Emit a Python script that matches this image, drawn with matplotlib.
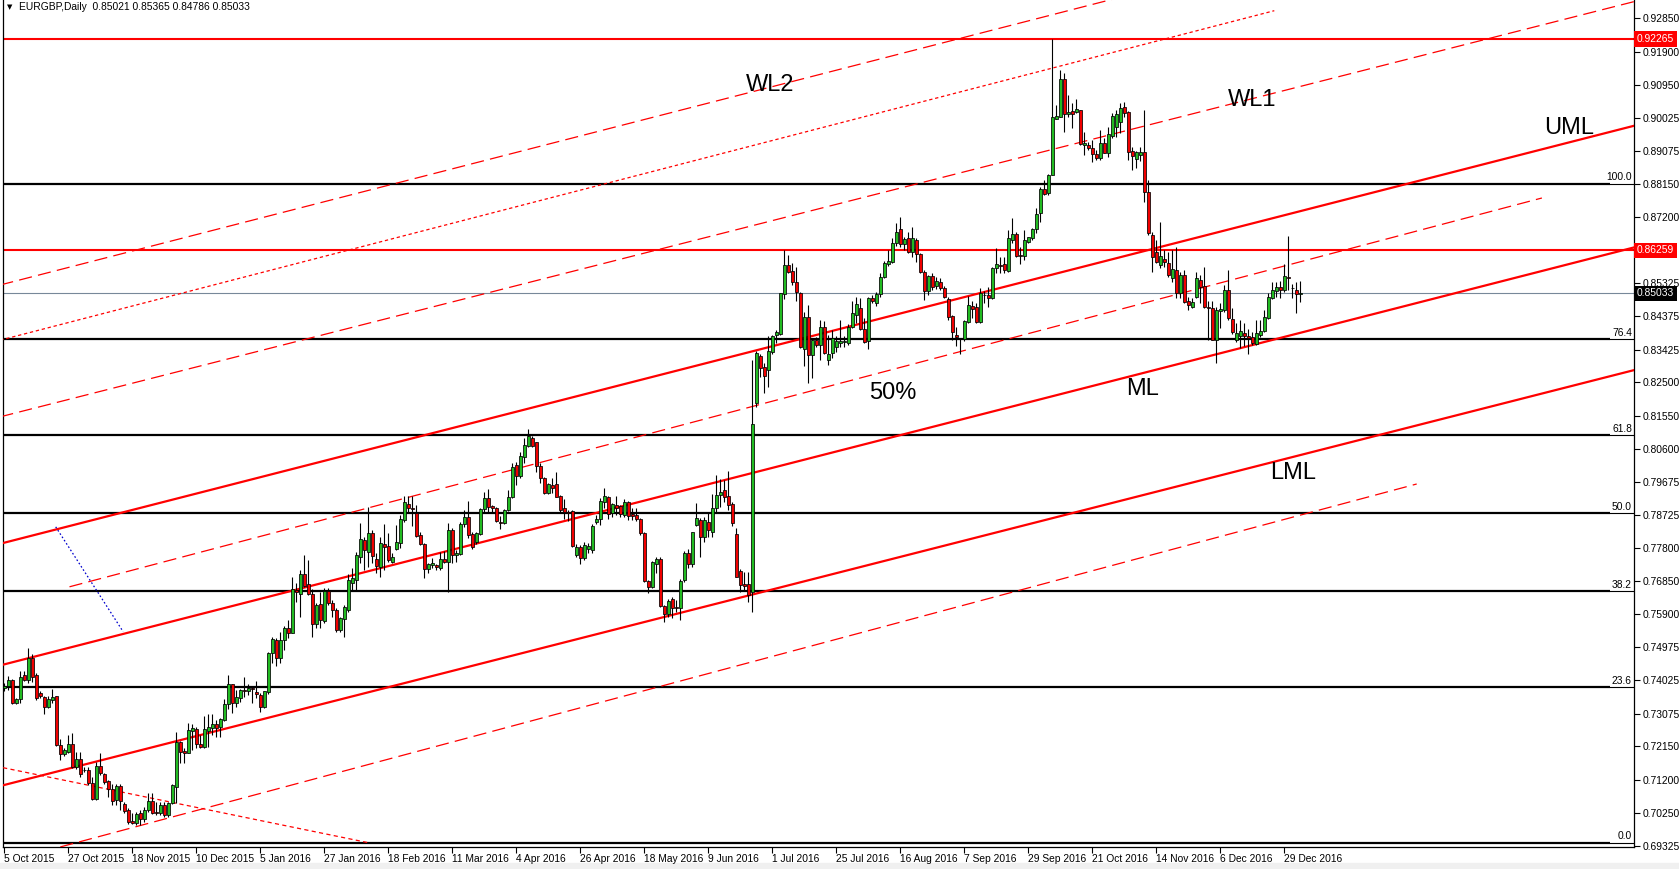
import numpy as np
import matplotlib
matplotlib.use("Agg")
import matplotlib.pyplot as plt
from matplotlib.patches import Rectangle

plt.rcParams['font.family'] = ['Liberation Sans', 'DejaVu Sans']
plt.rcParams['lines.scale_dashes'] = False

# ---------------- data (prices in 1e-4 units) ----------------
opens = [7380,7387,7403,7337,7349,7417,7403,7467,7417,7367,
 7354,7326,7347,7357,7218,7192,7200,7220,7157,7178,
 7147,7147,7111,7064,7159,7135,7116,7094,7062,7102,
 7051,7034,7003,6998,7024,7007,7033,7059,7027,7026,
 7047,7019,7053,7100,7226,7202,7197,7259,7264,7221,
 7214,7259,7266,7278,7269,7290,7334,7391,7339,7352,
 7375,7373,7380,7370,7361,7326,7368,7479,7517,7465,
 7517,7552,7538,7659,7647,7705,7676,7648,7562,7619,
 7571,7657,7622,7603,7546,7576,7603,7678,7688,7754,
 7801,7768,7821,7748,7726,7790,7784,7740,7775,7792,
 7859,7903,7892,7878,7816,7789,7718,7730,7731,7721,
 7748,7738,7830,7759,7762,7846,7866,7819,7795,7819,
 7889,7920,7898,7893,7854,7849,7887,7923,8015,7984,
 8038,8070,8091,8079,8013,7977,7936,7958,7960,7927,
 7892,7880,7885,7760,7783,7749,7775,7773,7852,7862,
 7911,7923,7878,7901,7898,7873,7909,7876,7873,7861,
 7821,7685,7667,7733,7747,7614,7591,7633,7612,7609,
 7688,7766,7733,7845,7858,7811,7852,7825,7894,7929,
 7945,7927,7904,7819,7713,7676,7676,7654,8190,8325,
 8294,8285,8337,8386,8387,8501,8584,8567,8536,8503,
 8344,8435,8329,8370,8356,8406,8313,8334,8351,8363,
 8366,8363,8406,8442,8461,8401,8368,8489,8475,8501,
 8550,8587,8593,8645,8685,8643,8660,8622,8655,8615,
 8565,8511,8552,8524,8536,8517,8486,8438,8385,8376,
 8372,8423,8468,8465,8423,8499,8497,8489,8574,8583,
 8586,8568,8655,8672,8613,8610,8650,8660,8686,8733,
 8799,8788,8840,9000,9006,9112,9012,9022,9018,9025,
 8924,8925,8916,8899,8887,8932,8903,8951,8975,8990,
 9034,9020,8908,8885,8896,8906,8791,8669,8622,8584,
 8600,8589,8548,8569,8503,8555,8482,8465,8492,8541,
 8524,8465,8461,8369,8453,8456,8512,8429,8371,8383,
 8389,8383,8380,8359,8385,8397,8432,8489,8510,8522,
 8513,8550,8518,8513,8502]

highs = [7395,7415,7405,7352,7430,7430,7493,7477,7422,7373,
 7357,7359,7377,7359,7237,7209,7247,7252,7200,7200,
 7157,7157,7128,7171,7195,7140,7119,7109,7109,7109,
 7057,7038,7024,7029,7033,7041,7083,7081,7057,7057,
 7057,7057,7109,7256,7231,7209,7280,7278,7271,7247,
 7301,7306,7307,7291,7294,7348,7417,7393,7375,7377,
 7413,7391,7387,7400,7366,7372,7484,7527,7522,7541,
 7557,7574,7697,7678,7716,7759,7745,7661,7622,7655,
 7664,7664,7631,7607,7584,7617,7705,7721,7768,7849,
 7809,7896,7830,7764,7811,7847,7821,7766,7844,7873,
 7928,7927,7927,7901,7825,7794,7737,7750,7733,7768,
 7771,7849,7835,7773,7854,7887,7913,7825,7825,7892,
 7939,7946,7901,7896,7870,7889,7944,8021,8024,8053,
 8091,8117,8097,8081,8020,7982,7963,7977,7994,7930,
 7917,7887,7887,7790,7787,7797,7792,7847,7873,7920,
 7949,7927,7906,7928,7901,7918,7913,7894,7892,7865,
 7824,7688,7743,7754,7754,7617,7634,7640,7631,7690,
 7769,7775,7825,7906,7863,7868,7880,7932,7986,7974,
 7972,7998,7911,7835,7718,7711,7711,8313,8340,8332,
 8304,8382,8386,8398,8503,8626,8612,8588,8579,8508,
 8451,8470,8375,8380,8427,8425,8385,8399,8382,8427,
 8382,8416,8482,8494,8489,8432,8494,8498,8508,8562,
 8596,8626,8660,8704,8721,8664,8679,8693,8660,8617,
 8569,8555,8560,8549,8546,8523,8494,8441,8406,8377,
 8428,8495,8482,8475,8517,8510,8522,8579,8631,8607,
 8607,8683,8716,8677,8636,8683,8664,8690,8745,8806,
 8826,8843,9226,9039,9138,9129,9067,9044,9055,9025,
 8963,8933,8939,8910,8968,8944,8977,9015,9025,9044,
 9046,9022,8920,8908,8920,9025,8826,8679,8655,8707,
 8627,8622,8627,8636,8565,8569,8494,8489,8565,8555,
 8579,8482,8482,8465,8475,8527,8570,8461,8418,8427,
 8418,8401,8394,8427,8427,8456,8503,8536,8536,8539,
 8587,8665,8529,8536,8537]

lows = [7372,7375,7334,7334,7337,7400,7394,7399,7346,7351,
 7306,7323,7337,7216,7176,7186,7195,7152,7149,7128,
 7143,7105,7062,7062,7133,7109,7070,7048,7048,7034,
 7024,6994,6994,6991,6991,7000,7029,7022,7019,7019,
 7015,7015,7051,7053,7166,7166,7195,7204,7209,7209,
 7209,7214,7247,7242,7240,7288,7320,7309,7326,7342,
 7356,7361,7337,7351,7313,7323,7364,7451,7443,7451,
 7489,7522,7536,7626,7584,7669,7645,7527,7550,7550,
 7565,7617,7584,7541,7541,7527,7598,7659,7659,7735,
 7716,7726,7735,7707,7695,7716,7740,7735,7773,7778,
 7854,7882,7842,7811,7787,7693,7707,7721,7716,7716,
 7735,7653,7735,7740,7759,7839,7806,7775,7790,7816,
 7882,7882,7882,7854,7832,7847,7884,7920,7958,7977,
 8021,8067,8067,7996,7963,7932,7932,7934,7923,7882,
 7860,7856,7783,7752,7733,7745,7766,7766,7847,7844,
 7894,7860,7868,7873,7868,7868,7859,7859,7857,7816,
 7683,7650,7664,7707,7612,7569,7584,7579,7598,7574,
 7683,7721,7726,7840,7754,7797,7809,7811,7877,7896,
 7911,7887,7840,7695,7655,7659,7626,7598,8179,8266,
 8219,8238,8332,8361,8384,8487,8560,8527,8482,8347,
 8297,8249,8261,8351,8313,8331,8299,8318,8337,8351,
 8350,8356,8404,8420,8399,8363,8344,8475,8467,8494,
 8546,8581,8588,8638,8636,8626,8617,8607,8593,8562,
 8484,8498,8513,8515,8512,8489,8426,8370,8353,8332,
 8368,8418,8432,8418,8420,8475,8465,8486,8560,8560,
 8560,8565,8645,8607,8586,8598,8645,8655,8674,8707,
 8783,8783,8840,8998,9004,8963,9006,8972,9015,8925,
 8897,8912,8878,8882,8882,8901,8892,8944,8949,8958,
 9006,8882,8854,8859,8880,8764,8669,8565,8588,8574,
 8579,8550,8536,8489,8489,8475,8456,8461,8489,8475,
 8461,8371,8369,8304,8404,8451,8427,8388,8366,8347,
 8352,8331,8356,8356,8378,8394,8430,8487,8494,8489,
 8508,8513,8489,8448,8479]

closes = [7387,7403,7337,7349,7413,7403,7467,7413,7351,7357,
 7326,7349,7354,7218,7192,7204,7220,7157,7178,7135,
 7148,7111,7064,7159,7140,7113,7094,7060,7102,7060,
 7032,6999,6998,7022,7007,7035,7059,7024,7024,7047,
 7019,7053,7105,7226,7200,7197,7261,7268,7221,7214,
 7263,7271,7278,7266,7292,7334,7391,7337,7354,7375,
 7371,7380,7379,7363,7328,7372,7479,7520,7467,7517,
 7552,7538,7661,7655,7705,7672,7648,7562,7617,7574,
 7657,7622,7603,7546,7579,7612,7688,7693,7759,7804,
 7773,7821,7757,7729,7792,7783,7745,7754,7795,7861,
 7910,7892,7891,7814,7789,7719,7733,7736,7724,7747,
 7738,7830,7759,7766,7846,7866,7816,7783,7821,7889,
 7920,7896,7893,7857,7849,7887,7923,8008,7984,8041,
 8072,8096,8070,8013,7977,7936,7960,7949,7925,7887,
 7882,7879,7784,7783,7749,7787,7785,7840,7862,7913,
 7927,7876,7903,7894,7876,7909,7871,7871,7860,7821,
 7685,7669,7740,7747,7614,7591,7629,7607,7607,7686,
 7766,7733,7823,7863,7811,7858,7830,7892,7929,7937,
 7925,7901,7849,7697,7674,7671,7645,8131,8334,8290,
 8269,8340,8382,8392,8503,8584,8565,8536,8506,8350,
 8435,8329,8370,8356,8406,8334,8332,8375,8367,8368,
 8367,8408,8446,8473,8401,8366,8489,8480,8500,8549,
 8588,8595,8645,8679,8643,8657,8622,8660,8615,8565,
 8511,8553,8522,8538,8517,8492,8437,8392,8378,8375,
 8424,8470,8458,8423,8503,8498,8491,8574,8586,8582,
 8570,8660,8672,8609,8608,8655,8662,8686,8729,8799,
 8786,8840,9006,9007,9112,9012,9019,9013,9026,8928,
 8930,8916,8899,8887,8932,8903,8956,9008,9013,9029,
 9015,8906,8895,8904,8906,8792,8676,8607,8591,8610,
 8591,8555,8572,8505,8555,8478,8470,8479,8546,8522,
 8463,8461,8371,8456,8458,8514,8432,8394,8389,8396,
 8383,8375,8363,8391,8397,8437,8492,8513,8520,8513,
 8553,8548,8517,8501,8503]

date_labels = ['5 Oct 2015', '27 Oct 2015', '18 Nov 2015', '10 Dec 2015', '5 Jan 2016',
               '27 Jan 2016', '18 Feb 2016', '11 Mar 2016', '4 Apr 2016', '26 Apr 2016',
               '18 May 2016', '9 Jun 2016', '1 Jul 2016', '25 Jul 2016', '16 Aug 2016',
               '7 Sep 2016', '29 Sep 2016', '21 Oct 2016', '14 Nov 2016', '6 Dec 2016',
               '29 Dec 2016']
bars_per_label = 16

price_ticks = [0.92850, 0.91900, 0.90950, 0.90025, 0.89075, 0.88150, 0.87200, 0.85325,
               0.84375, 0.83425, 0.82500, 0.81550, 0.80600, 0.79675, 0.78725, 0.77800,
               0.76850, 0.75900, 0.74975, 0.74025, 0.73075, 0.72150, 0.71200, 0.70250,
               0.69325]

fib_low, fib_high = 0.69405, 0.88150
fib_levels = [0.0, 23.6, 38.2, 50.0, 61.8, 76.4, 100.0]
red_levels = [0.92265, 0.86259]
bid_price = 0.85033
header = 'EURGBP,Daily  0.85021 0.85365 0.84786 0.85033'

# trend lines: (bar0, price0, bar1, price1)
uml_line = (-1, 0.7791, 412, 0.8993)
ml_line = (-1, 0.7445, 412, 0.8647)
lml_line = (-1, 0.7102, 412, 0.8298)
mid_upper_line = (16.3, 0.76685, 384.4, 0.87743)
lower_dash_line = (14.0, 0.69286, 353.1, 0.79609)
wl1_line = (-1, 0.8152, 412, 0.9346)
dotted_line = (-1, 0.8370, 317.5, 0.9307)
wl2_line = (-1, 0.8527, 282, 0.9354)
handle_line = (-0.3, 0.7154, 91.3, 0.6940)
blue_line = (12.85, 0.7839, 29.7, 0.7541)

# ---------------- layout helpers (pixel -> data) ----------------
W, H, DPI = 1679, 869, 100
X0_PX, BAR_PX = 4.3, 4.0
Y_REF_PX, Y_REF_PRICE, PX_PER_UNIT = 39.0, 0.92265, 3516.0


def px2x(px):
    return (px - X0_PX) / BAR_PX


def px2y(py):
    return Y_REF_PRICE - (py - Y_REF_PX) / PX_PER_UNIT


AX_L, AX_R, AX_T, AX_B = 3, 1634, 0, 847
FS = 7.4

o = np.array(opens) / 1e4
h = np.array(highs) / 1e4
l = np.array(lows) / 1e4
c = np.array(closes) / 1e4
idx = np.arange(len(o))

fig = plt.figure(figsize=(W / DPI, H / DPI), dpi=DPI)
fig.patch.set_facecolor('white')
fig.patches.append(Rectangle((0, 0), 1, 6 / H, transform=fig.transFigure,
                             color='#f0f0f0', zorder=-5))
ax = fig.add_axes([AX_L / W, 1 - AX_B / H, (AX_R - AX_L) / W, (AX_B - AX_T) / H])
xmin, xmax = px2x(AX_L), px2x(AX_R)
ax.set_xlim(xmin, xmax)
ax.set_ylim(px2y(AX_B), px2y(AX_T))

RED = '#ff0000'

# fibonacci levels
fib_cut = px2x(1610)
for r in fib_levels:
    lvl = fib_low + r / 100.0 * (fib_high - fib_low)
    ax.plot([xmin, fib_cut], [lvl, lvl], color='black', lw=1.6, zorder=2, solid_capstyle='butt')
    ax.plot([fib_cut, xmax], [lvl, lvl], color='black', lw=0.8, zorder=2)
    ax.annotate(f'{r:.1f}', xy=(px2x(1632), lvl), xytext=(0, 1), textcoords='offset points',
                ha='right', va='bottom', fontsize=FS, zorder=3)

# horizontal levels
for lvl in red_levels:
    ax.axhline(lvl, color=RED, lw=1.5, zorder=2)
ax.axhline(bid_price, color='#778899', lw=0.8, zorder=2)


def draw(line, **kw):
    x0, y0, x1, y1 = line
    ax.plot([x0, x1], [y0, y1], **kw)


solid = dict(color=RED, lw=1.6, zorder=3, solid_capstyle='butt')
draw(uml_line, **solid)
draw(ml_line, **solid)
draw(lml_line, **solid)
dash = dict(color=RED, lw=0.9, zorder=3, dashes=(9.5, 4.5))
draw(mid_upper_line, **dash)
draw(lower_dash_line, **dash)
draw(wl1_line, **dash)
draw(wl2_line, **dash)
draw(dotted_line, color=RED, lw=0.9, zorder=3, dashes=(2.4, 2.0))
draw(handle_line, color=RED, lw=0.9, zorder=3, dashes=(3.0, 2.4))
draw(blue_line, color='#0000cd', lw=0.9, zorder=3, dashes=(1.2, 1.6))

# candles
ax.vlines(idx, l, h, colors='black', lw=0.8, zorder=5)
up = c >= o
cols = np.where(up, '#22bb22', '#f00000')
body_h = np.maximum(np.abs(c - o), 0.00002)
ax.bar(idx, body_h, bottom=np.minimum(o, c), width=0.78, color=cols,
       edgecolor='black', linewidth=0.55, zorder=6)

# text labels
label_kw = dict(fontsize=17, ha='left', va='baseline', color='black', zorder=7)
ax.text(px2x(746), px2y(91), 'WL2', **label_kw)
ax.text(px2x(1228), px2y(106), 'WL1', **label_kw)
ax.text(px2x(1544), px2y(134), 'UML', **label_kw)
ax.text(px2x(869), px2y(399), '50%', **label_kw)
ax.text(px2x(1126), px2y(395), 'ML', **label_kw)
ax.text(px2x(1270), px2y(479), 'LML', **label_kw)

# axes styling
for s in ['left', 'right', 'bottom']:
    ax.spines[s].set_color('black')
    ax.spines[s].set_linewidth(0.9)
ax.spines['top'].set_visible(False)

ax.yaxis.tick_right()
ax.set_yticks(price_ticks)
ax.set_yticklabels([f'{v:.5f}' for v in price_ticks])
ax.tick_params(axis='y', direction='out', length=4, width=0.8, labelsize=FS, pad=2)

ax.set_xticks(np.arange(len(date_labels)) * bars_per_label)
ax.set_xticklabels(date_labels)
for t in ax.get_xticklabels():
    t.set_horizontalalignment('left')
ax.tick_params(axis='x', direction='out', length=4, width=0.8, labelsize=FS, pad=1)

# price boxes on the right axis
for lvl in red_levels:
    ax.annotate(f'{lvl:.5f}', xy=(1, lvl), xycoords=('axes fraction', 'data'),
                xytext=(2, 0), textcoords='offset points', ha='left', va='center',
                fontsize=FS, color='white', annotation_clip=False, zorder=10,
                bbox=dict(boxstyle='square,pad=0.25', fc=RED, ec='none'))
ax.annotate(f'{bid_price:.5f}', xy=(1, bid_price), xycoords=('axes fraction', 'data'),
            xytext=(2, 0), textcoords='offset points', ha='left', va='center',
            fontsize=FS, color='white', annotation_clip=False, zorder=10,
            bbox=dict(boxstyle='square,pad=0.25', fc='black', ec='none'))

# header
fig.text(7 / W, 1 - 7 / H, '\u25bc', fontsize=5, va='center', ha='left',
         family=['DejaVu Sans'])
fig.text(19 / W, 1 - 7 / H, header, fontsize=FS, va='center', ha='left')

fig.savefig('out.png', dpi=DPI)
